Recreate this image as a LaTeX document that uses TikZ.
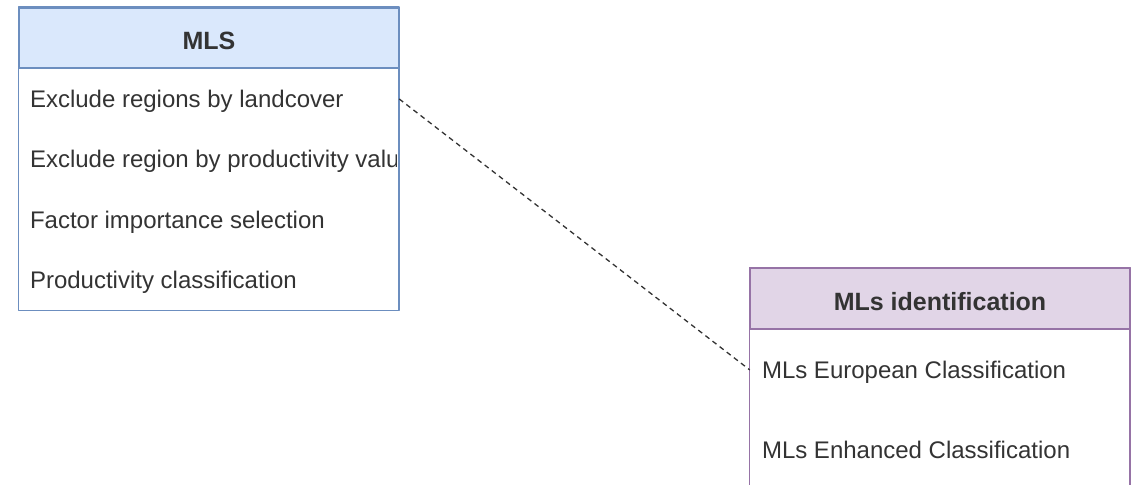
\documentclass[tikz,border=0pt]{standalone}
\usepackage{fontspec}
\setmainfont{Liberation Sans}
\usetikzlibrary{positioning}
\definecolor{mlsfill}{HTML}{DAE8FC}
\definecolor{mlsline}{HTML}{6C8EBF}
\definecolor{idfill}{HTML}{E1D5E7}
\definecolor{idline}{HTML}{9673A6}
\definecolor{txtgray}{HTML}{333333}
\tikzset{
	headbox/.style={draw, line width=1.5, minimum width=380, minimum height=60, inner sep=0,
		font=\fontsize{25}{30}\selectfont\bfseries, text=txtgray, text height=24, text depth=0},
	rowbox/.style={minimum width=380, minimum height=60, inner xsep=11, inner ysep=0,
		font=\fontsize{24}{29}\selectfont, text=txtgray, text height=17.2, text depth=0},
	frame/.style={line width=1.5},
	link/.style={line width=1.3, dash pattern=on 5 off 4, black!80}
}
\begin{document}
\begin{tikzpicture}[x=1pt, y=-1pt, line join=round]
				\clip (0,0) rectangle (1139,484);
				% MLS
				\node[headbox, fill=mlsfill, draw=mlsline] (mls) at (209,38) {MLS};
				\begin{scope}
				\clip (19,68) rectangle (396,308);
				\node[rowbox, below=0 of mls] (exclLand) {\makebox[358pt][l]{Exclude regions by landcover}};
				\node[rowbox, below=0 of exclLand] (exclProd) {\makebox[358pt][l]{Exclude region by productivity value}};
				\node[rowbox, below=0 of exclProd] (factSel) {\makebox[358pt][l]{Factor importance selection}};
				\node[rowbox, below=0 of factSel] (prodClass) {\makebox[358pt][l]{Productivity classification}};
				\end{scope}
				\draw[frame, mlsline] (mls.north west) rectangle (prodClass.south east);
				% MLs identification
				\node[headbox, fill=idfill, draw=idline, minimum height=61] (mlsId) at (940,298.5) {MLs identification};
				\node[rowbox, minimum height=80, inner xsep=12, below=0 of mlsId] (mlsEuro) {\makebox[356pt][l]{MLs European Classification}};
				\node[rowbox, minimum height=80, inner xsep=12, below=0 of mlsEuro] (mlsEnh) {\makebox[356pt][l]{MLs Enhanced Classification}};
				\draw[frame, idline] (mlsId.north west) rectangle (mlsEnh.south east);
				\draw[link] (exclLand.east) -- (mlsEuro.west);
\end{tikzpicture}
\end{document}
